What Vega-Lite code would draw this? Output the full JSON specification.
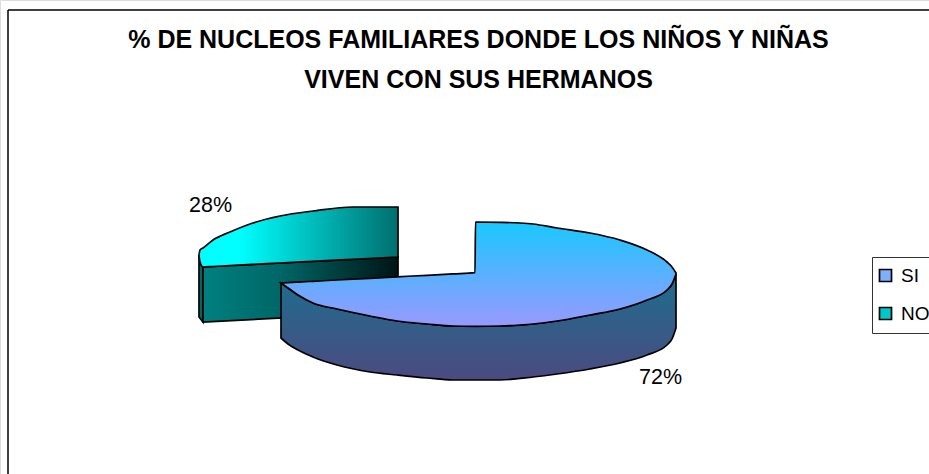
{
"$schema":"https://vega.github.io/schema/vega-lite/v6.json",
"width":929,"height":474,"padding":0,"autosize":{"type":"none"},"background":"white",
"title":{"text":["% DE NUCLEOS FAMILIARES DONDE LOS NIÑOS Y NIÑAS","VIVEN CON SUS HERMANOS"],"font":"Liberation Sans","fontSize":25,"fontWeight":"bold","color":"black","anchor":"middle","frame":"group","dx":14,"offset":-93,"lineHeight":40,"baseline":"top"},
"datasets":{
"frameTop":[{"x":8,"x2":929,"y":10}],
"frameLeft":[{"x":8,"y":10,"y2":474}],
"noEdge":[{"x":199,"y":255,"y2":317},{"x":203,"y":267,"y2":322}],
"noFront":[{"x":203,"y":267,"y2":322},{"x":398,"y":257,"y2":312}],
"noTop":[{"x":199,"y":255,"y2":255},{"x":200,"y":250,"y2":262},{"x":203,"y":248,"y2":267},{"x":213,"y":240,"y2":266.5},{"x":230,"y":232,"y2":265.5},{"x":253,"y":223,"y2":264.4},{"x":280,"y":216,"y2":263},{"x":313,"y":211,"y2":261.4},{"x":353,"y":207,"y2":259.3},{"x":398,"y":207,"y2":257}],
"siSide":[{"x":281,"y":283,"y2":338},{"x":288,"y":288,"y2":344},{"x":298,"y":295,"y2":350},{"x":313,"y":303,"y2":357},{"x":337,"y":309,"y2":365},{"x":370,"y":316,"y2":372},{"x":397,"y":321,"y2":375},{"x":427,"y":324,"y2":378},{"x":453,"y":326,"y2":380},{"x":500,"y":326,"y2":380},{"x":533,"y":324,"y2":377},{"x":557,"y":321,"y2":374},{"x":590,"y":315,"y2":369},{"x":620,"y":309,"y2":363},{"x":647,"y":300,"y2":355},{"x":667,"y":290,"y2":345},{"x":672,"y":284,"y2":339},{"x":676,"y":274,"y2":328}],
"siTop":[{"x":281,"y":283,"y2":283},{"x":288,"y":282.6,"y2":288},{"x":298,"y":282.1,"y2":295},{"x":313,"y":281.3,"y2":303},{"x":337,"y":280,"y2":309},{"x":370,"y":278.3,"y2":316},{"x":397,"y":276.8,"y2":321},{"x":427,"y":275.3,"y2":324},{"x":453,"y":273.9,"y2":326},{"x":475,"y":272.7,"y2":326.3},{"x":475.5,"y":222,"y2":326.3},{"x":500,"y":222.3,"y2":326},{"x":520,"y":223,"y2":325},{"x":533,"y":224,"y2":324},{"x":557,"y":228,"y2":321},{"x":590,"y":233,"y2":315},{"x":620,"y":240,"y2":309},{"x":647,"y":250,"y2":300},{"x":667,"y":262,"y2":290},{"x":672,"y":267,"y2":284},{"x":676,"y":273,"y2":274}],
"labels":[{"serie":"NO","label":"28%","x":210.5,"y":206},{"serie":"SI","label":"72%","x":660.5,"y":378}]
},
"layer":[
{"data":{"name":"frameTop"},"mark":{"type":"rule","color":"black","strokeWidth":1.5},"encoding":{"x":{"field":"x","type":"quantitative","scale":{"domain":[0,929],"nice":false,"zero":false},"axis":null},"x2":{"field":"x2"},"y":{"field":"y","type":"quantitative","scale":{"domain":[474,0],"nice":false,"zero":false},"axis":null}}},
{"data":{"name":"frameLeft"},"mark":{"type":"rule","color":"black","strokeWidth":1.5},"encoding":{"x":{"field":"x","type":"quantitative"},"y":{"field":"y","type":"quantitative"},"y2":{"field":"y2"}}},
{"data":{"name":"noEdge"},"mark":{"type":"area","color":"#006666","stroke":"black","strokeWidth":1.7},"encoding":{"x":{"field":"x","type":"quantitative"},"y":{"field":"y","type":"quantitative"},"y2":{"field":"y2"}}},
{"data":{"name":"noFront"},"mark":{"type":"area","stroke":"black","strokeWidth":1.7,"color":{"gradient":"linear","x1":0,"y1":0,"x2":1,"y2":0,"stops":[{"offset":0,"color":"#008080"},{"offset":0.4,"color":"#006666"},{"offset":1,"color":"#001414"}]}},"encoding":{"x":{"field":"x","type":"quantitative"},"y":{"field":"y","type":"quantitative"},"y2":{"field":"y2"}}},
{"data":{"name":"noTop"},"mark":{"type":"area","interpolate":"monotone","stroke":"black","strokeWidth":1.7,"color":{"gradient":"linear","x1":0,"y1":0,"x2":1,"y2":0,"stops":[{"offset":0,"color":"#00FFFF"},{"offset":0.2,"color":"#00FFFF"},{"offset":1,"color":"#006F6F"}]}},"encoding":{"x":{"field":"x","type":"quantitative"},"y":{"field":"y","type":"quantitative"},"y2":{"field":"y2"}}},
{"data":{"name":"siSide"},"mark":{"type":"area","interpolate":"monotone","stroke":"black","strokeWidth":1.7,"color":{"gradient":"linear","x1":0,"y1":0,"x2":0,"y2":1,"stops":[{"offset":0,"color":"#1C6E8E"},{"offset":1,"color":"#4C4A80"}]}},"encoding":{"x":{"field":"x","type":"quantitative"},"y":{"field":"y","type":"quantitative"},"y2":{"field":"y2"}}},
{"data":{"name":"siTop"},"mark":{"type":"area","interpolate":"monotone","stroke":"black","strokeWidth":1.7,"color":{"gradient":"linear","x1":0,"y1":0,"x2":0,"y2":1,"stops":[{"offset":0,"color":"#19C8FF"},{"offset":1,"color":"#9999FF"}]}},"encoding":{"x":{"field":"x","type":"quantitative"},"y":{"field":"y","type":"quantitative"},"y2":{"field":"y2"}}},
{"data":{"name":"labels"},"mark":{"type":"point","filled":true,"opacity":0},"encoding":{"x":{"field":"x","type":"quantitative"},"y":{"field":"y","type":"quantitative"},
"color":{"field":"serie","type":"nominal","scale":{"domain":["SI","NO"],"range":["#7FAFFF","#00C8C8"]},
"legend":{"title":null,"orient":"none","legendX":872,"legendY":257,"symbolType":"square","symbolSize":144,"symbolOpacity":1,"symbolOffset":-5,"symbolStrokeColor":"black","symbolStrokeWidth":1.7,"labelFont":"Liberation Sans","labelFontSize":19,"labelColor":"black","strokeColor":"#333333","padding":9,"rowPadding":18,"labelOffset":6,
"encoding":{"symbols":{"update":{"opacity":{"value":1},"fill":[{"test":"datum.value==='SI'","value":{"gradient":"linear","x1":0,"y1":0,"x2":0,"y2":1,"stops":[{"offset":0,"color":"#55BBFF"},{"offset":1,"color":"#9999FF"}]}},{"value":{"gradient":"linear","x1":0,"y1":0,"x2":1,"y2":0,"stops":[{"offset":0,"color":"#00FFFF"},{"offset":1,"color":"#006F6F"}]}}]}}}}}}},
{"data":{"name":"labels"},"mark":{"type":"text","font":"Liberation Sans","fontSize":21.5,"color":"black","align":"center","baseline":"middle"},"encoding":{"x":{"field":"x","type":"quantitative"},"y":{"field":"y","type":"quantitative"},"text":{"field":"label"}}}
]
}
